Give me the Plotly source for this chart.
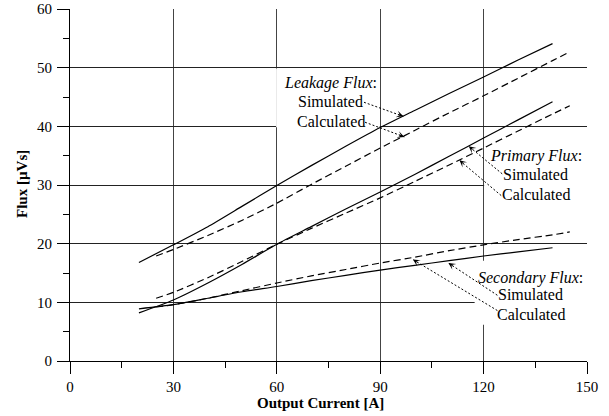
import math
import plotly.graph_objects as go

# ---- data ----
x_sim = [20, 30, 40, 50, 60, 70, 80, 90, 100, 110, 120, 130, 140]
x_calc = [25, 30, 40, 50, 60, 70, 80, 90, 100, 110, 120, 130, 140, 145]

leak_sim = [16.8, 19.8, 22.9, 26.4, 29.9, 33.3, 36.6, 39.8, 42.7, 45.6, 48.4, 51.3, 54.1]
leak_calc = [17.9, 19.0, 21.4, 24.0, 26.9, 30.1, 33.2, 36.3, 39.3, 42.3, 45.2, 48.2, 51.2, 52.7]

prim_sim = [8.2, 10.4, 13.3, 16.5, 19.9, 22.9, 25.9, 28.8, 31.8, 34.9, 38.0, 41.1, 44.2]
prim_calc = [10.7, 11.7, 14.2, 17.0, 19.9, 22.6, 25.2, 27.8, 30.6, 33.4, 36.3, 39.2, 42.1, 43.5]

sec_sim = [8.9, 9.6, 10.7, 11.8, 12.7, 13.7, 14.6, 15.5, 16.3, 17.1, 17.9, 18.6, 19.3]
sec_calc = [9.2, 9.6, 10.7, 12.0, 13.3, 14.5, 15.6, 16.7, 17.7, 18.8, 19.8, 20.7, 21.5, 22.0]

x_ticks = [0, 30, 60, 90, 120, 150]
y_ticks = [0, 10, 20, 30, 40, 50, 60]

FONT = "Liberation Serif"
W, H = 609, 416
ML, MR, MT, MB = 70, 22, 9, 55
XR = (0, 150)
YR = (0, 60)
PW = W - ML - MR
PH = H - MT - MB
sx = PW / (XR[1] - XR[0])
sy = PH / (YR[1] - YR[0])

fig = go.Figure()

solid = dict(color="black", width=1.2, shape="spline", smoothing=0.6)
dashed = dict(color="black", width=1.2, dash="7px,4px", shape="spline", smoothing=0.6)

for xs, ys, ln in [
    (x_sim, leak_sim, solid), (x_calc, leak_calc, dashed),
    (x_sim, prim_sim, solid), (x_calc, prim_calc, dashed),
    (x_sim, sec_sim, solid), (x_calc, sec_calc, dashed),
]:
    fig.add_trace(go.Scatter(x=xs, y=ys, mode="lines", line=ln,
                             showlegend=False, hoverinfo="skip"))

# white boxes behind the labels (hide grid lines, beneath curves)
boxes = [
    (59.8, 89.85, 39.85, 49.85),
    (120.15, 150.3, 24.0, 39.85),
    (117.4, 150.3, 6.2, 17.1),
]
for x0, x1, y0, y1 in boxes:
    fig.add_shape(type="rect", xref="x", yref="y", x0=x0, x1=x1, y0=y0, y1=y1,
                  fillcolor="white", line=dict(width=0), layer="between")

# label blocks: (x, [y per line], [texts])
label_blocks = [
    (75.6, [47.4, 44.25, 40.75], ["<i>Leakage Flux</i>:", "Simulated", "Calculated"]),
    (135.1, [34.9, 31.85, 28.3], ["<i>Primary Flux</i>:", "Simulated", "Calculated"]),
    (133.7, [14.2, 11.35, 7.85], ["<i>Secondary Flux</i>:", "Simulated", "Calculated"]),
]
for lx, ys, texts in label_blocks:
    for ly, txt in zip(ys, texts):
        fig.add_annotation(x=lx, y=ly, xref="x", yref="y", text=txt, showarrow=False,
                           xanchor="center", yanchor="middle",
                           font=dict(family=FONT, size=16, color="black"))

# dotted pointer lines: (start_x, start_y, tip_x, tip_y)
pointers = [
    (85.3, 44.1, 96.7, 41.7),
    (85.6, 40.7, 97.0, 38.2),
    (125.4, 31.9, 115.7, 36.6),
    (125.1, 28.2, 113.0, 34.2),
    (124.0, 11.2, 109.8, 16.7),
    (124.0, 8.6, 99.5, 17.3),
]
for x0, y0, x1, y1 in pointers:
    fig.add_shape(type="line", xref="x", yref="y", x0=x0, y0=y0, x1=x1, y1=y1,
                  line=dict(color="black", width=1, dash="2px,2px"))
    dx = (x0 - x1) * sx
    dy = -(y0 - y1) * sy
    L = math.hypot(dx, dy)
    fig.add_annotation(x=x1, y=y1, xref="x", yref="y", text="",
                       showarrow=True, ax=dx / L * 7, ay=dy / L * 7,
                       arrowhead=3, arrowsize=1.3, arrowwidth=0.9,
                       arrowcolor="black")

# axis titles
fig.add_annotation(x=(320 - ML) / PW, y=-(403 - (H - MB)) / PH,
                   xref="paper", yref="paper",
                   text="<b>Output Current [A]</b>", showarrow=False,
                   xanchor="center", yanchor="middle",
                   font=dict(family=FONT, size=15, color="black"))
fig.add_annotation(x=-(ML - 22) / PW, y=((H - MB) - 184) / PH,
                   xref="paper", yref="paper",
                   text="<b>Flux [µVs]</b>", showarrow=False, textangle=-90,
                   xanchor="center", yanchor="middle",
                   font=dict(family=FONT, size=15, color="black"))

fig.update_layout(
    width=W, height=H,
    margin=dict(l=ML, r=MR, t=MT, b=MB, autoexpand=False),
    plot_bgcolor="white", paper_bgcolor="white",
    font=dict(family=FONT, size=15, color="black"),
    showlegend=False,
)
fig.update_xaxes(
    range=list(XR), tickvals=x_ticks, ticktext=[str(v) for v in x_ticks],
    showgrid=True, gridcolor="#444", gridwidth=1, automargin=False,
    showline=True, linecolor="black", linewidth=1, zeroline=False,
    ticks="outside", ticklen=12, tickcolor="black", tickwidth=1,
    minor=dict(dtick=15, tick0=0, ticks="outside", ticklen=6,
               tickcolor="black", tickwidth=1, showgrid=False),
    tickfont=dict(family=FONT, size=15, color="black"),
)
fig.update_yaxes(
    range=list(YR), tickvals=y_ticks, ticktext=[str(v) for v in y_ticks],
    showgrid=True, gridcolor="#222", gridwidth=1, automargin=False,
    showline=True, linecolor="black", linewidth=1, zeroline=False,
    ticks="outside", ticklen=12, tickcolor="black", tickwidth=1,
    ticklabelstandoff=2,
    minor=dict(dtick=5, tick0=0, ticks="outside", ticklen=6,
               tickcolor="black", tickwidth=1, showgrid=False),
    tickfont=dict(family=FONT, size=15, color="black"),
)

fig.write_html("out.html",
               config={"displayModeBar": False},
               post_script="document.body.style.margin='0';"
                           "document.body.style.overflow='hidden';")
